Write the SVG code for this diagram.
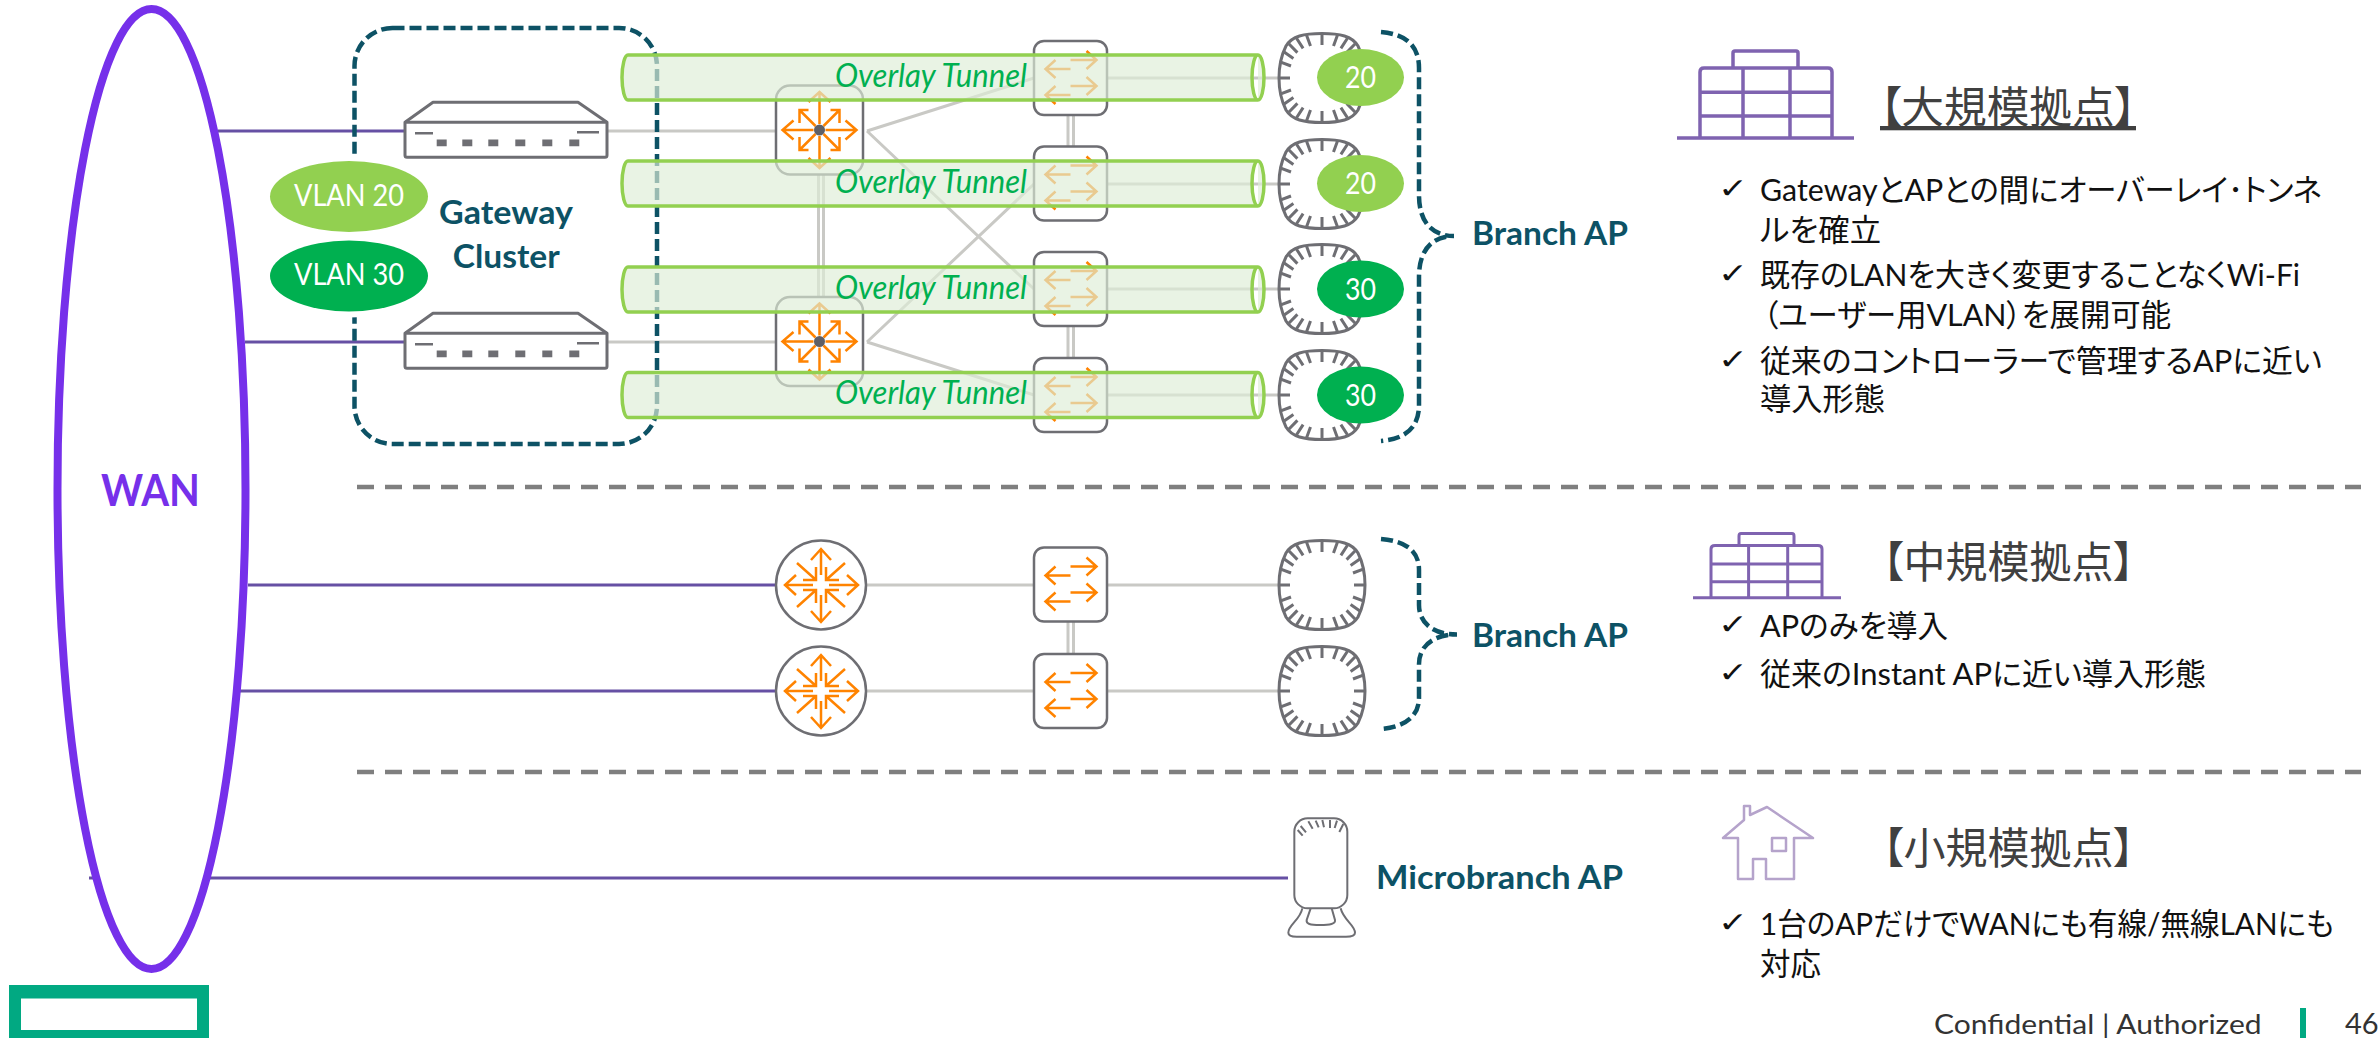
<svg xmlns="http://www.w3.org/2000/svg" width="2379" height="1038" viewBox="0 0 2379 1038">
<style>
text{font-family:"Lato","Noto Sans CJK JP",sans-serif}
.teal{fill:#0d5265;font-weight:700;font-size:33px}
.ov{fill:#00b050;font-style:italic;font-size:33px}
.wh{fill:#fff;font-size:31px}
.jp{fill:#111;font-size:31px;font-feature-settings:"palt"}
.ck{fill:#111;font-size:28px;font-family:"DejaVu Sans",sans-serif}
.ttl{fill:#404040;font-size:43px;font-family:"Noto Sans CJK JP",sans-serif;font-feature-settings:"palt"}
.pl{stroke:#6650a4;stroke-width:3;fill:none}
.gl{stroke:#c9c9c5;stroke-width:3;fill:none}
.box{fill:#fff;stroke:#6e6e73;stroke-width:2.5}
.org{fill:none;stroke:#ff8300;stroke-width:2.5}
.dash{fill:none;stroke:#0d5265;stroke-width:4.5;stroke-dasharray:12 5}
.sep{stroke:#7f7f7f;stroke-width:4.5;stroke-dasharray:17 11}
.tun{fill:#deedd7;fill-opacity:.67;stroke:#92d050;stroke-width:3.5}
.bld{fill:none;stroke:#7f63b0;stroke-linejoin:round}
.lg{fill:#92d050}.dg{fill:#00b050}
.gray{fill:none;stroke:#6e6e73;stroke-width:3;stroke-linejoin:round}
</style>
<defs>
<path id="rA" class="org" d="M-6 0H-37M-26-9.500L-37 0L-26 9.500M6 0H37M26-9.500L37 0L26 9.500M0-6V-38M-11-28L0-38L11-28M0 6V38M-11 28L0 38L11 28M-4-4L-20-20M-11-20H-20V-7M4-4L20-20M11-20H20V-7M-4 4L-20 20M-11 20H-20V7M4 4L20 20M11 20H20V7"/>
<path id="rC" class="org" d="M-8 0H-36M-25-10L-36 0L-25 10M8 0H37M26-10L37 0L26 10M0-10V-36M-10-25L0-36L10-25M0 10V37M-10 26L0 37L10 26M-24-22L-5-5M-5-18V-5H-18M24-22L5-5M5-18V-5H18M-24 22L-5 5M-5 18V5H-18M24 22L5 5M5 18V5H18"/>
<path id="sA" class="org" d="M0-18H26M16-27L26-18L16-9M0-9H-25M-15-18L-25-9L-15 0M0 8H26M16-1L26 8L16 17M0 17H-25M-15 8L-25 17L-15 26"/>
<g id="ap">
<path d="M0-44.500C18-44.500 30-42 36-32C41-22 43-10 43 0C43 10 41 22 36 32C30 42 18 44.500 0 44.500C-18 44.500-30 42-36 32C-41 22-43 10-43 0C-43-10-41-22-36-32C-30-42-18-44.500 0-44.500Z" fill="#fff" stroke="#6e6e73" stroke-width="3"/>
<path fill="none" stroke="#6e6e73" stroke-width="3" d="M43 0H32M41.900 16.200L31 12M38.600 26.500L28.600 19.600M33.200 34.300L24.600 25.400M25.600 40L18.900 29.600M15.600 43.300L11.500 32M0 44.500V33M-15.600 43.300L-11.500 32M-25.600 40L-18.900 29.600M-33.200 34.300L-24.600 25.400M-38.600 26.500L-28.600 19.600M-41.900 16.200L-31 12M-43 0H-32M-41.900-16.200L-31-12M-38.600-26.500L-28.600-19.600M-33.200-34.300L-24.600-25.400M-25.600-40L-18.900-29.600M-15.600-43.300L-11.500-32M0-44.500V-33M15.600-43.300L11.500-32M25.600-40L18.900-29.600M33.200-34.300L24.600-25.400M38.600-26.500L28.600-19.600M41.900-16.200L31-12"/>
</g>
<g id="gw">
<path d="M0 0L28-20H173L202 0V33Q202 35 200 35H2Q0 35 0 33Z" fill="#fff" stroke="#6e6e73" stroke-width="3" stroke-linejoin="round"/>
<path class="gray" d="M0 0H202"/>
<path fill="none" stroke="#6e6e73" stroke-width="2.500" d="M10 11H28M172 10H194"/>
<path fill="#6e6e73" d="M31.700 17.300h10v6.700h-10zM57.300 17.300h10v6.700h-10zM83.300 17.300h10v6.700h-10zM110.300 17.300h10v6.700h-10zM137.300 17.300h10v6.700h-10zM164.300 17.300h10v6.700h-10z"/>
</g>
<g id="rbox"><rect class="box" x="-43.500" y="-44.500" width="87" height="89" rx="14"/><use href="#rA"/><circle r="5.500" fill="#5f5f66"/></g>
<g id="sw"><rect class="box" x="-36.500" y="-37" width="73" height="74" rx="10"/><use href="#sA"/></g>
<g id="rc"><ellipse class="box" rx="45" ry="44.500"/><use href="#rC"/></g>
<path id="tun" class="tun" d="M628 0H1258A6 22.500 0 0 1 1258 45H628A6 22.500 0 0 1 628 0ZM1258 0A6 22.500 0 0 0 1258 45"/>
</defs>

<g id="connectors">
<path class="pl" d="M218 131H405M245 342H405M248 585H776M240 691H776M89 878H1288"/>
<path class="gl" d="M607 131H776M607 342H776M867 131L1034 78M867 131L1034 289M867 342L1034 184M867 342L1034 395"/>
<path class="gl" d="M1107 78H1278M1107 184H1278M1107 289H1278M1107 395H1278M866 585H1034M866 691H1034M1107 585H1279M1107 691H1279"/>
<path class="gl" d="M818.500 175V298M823.500 175V298M1068 115V146M1073.500 115V146M1068 326V358M1073.500 326V358M1068 622V654M1073.500 622V654"/>
<path class="sep" d="M357 487H2361M357 772H2361"/>
</g>

<g id="wan"><ellipse cx="151.500" cy="489" rx="94" ry="480" fill="#fff" stroke="#7630ea" stroke-width="8"/>
<text x="101" y="506" font-size="43" font-weight="700" fill="#7630ea" textLength="99" lengthAdjust="spacingAndGlyphs">WAN</text></g>

<g id="logo"><path fill="#01a982" fill-rule="evenodd" d="M9 985H209V1038H9ZM21 998.600V1030H197V998.600Z"/></g>

<g id="gateway-cluster"><rect class="dash" x="354.500" y="28" width="302.500" height="416" rx="38"/>
<text class="teal" x="439" y="224" textLength="134" lengthAdjust="spacingAndGlyphs">Gateway</text>
<text class="teal" x="452.700" y="268" textLength="107" lengthAdjust="spacingAndGlyphs">Cluster</text></g>

<g id="vlan20"><ellipse class="lg" cx="349" cy="196.500" rx="79" ry="35.500" stroke="#fff" stroke-width="12" paint-order="stroke"/><text class="wh" x="294" y="205.500" textLength="110" lengthAdjust="spacingAndGlyphs">VLAN 20</text></g>
<g id="vlan30"><ellipse class="dg" cx="349" cy="276" rx="79" ry="35.500" stroke="#fff" stroke-width="12" paint-order="stroke"/><text class="wh" x="294" y="285" textLength="110" lengthAdjust="spacingAndGlyphs">VLAN 30</text></g>

<g id="gateway1"><use href="#gw" x="405" y="122.300"/></g>
<g id="gateway2"><use href="#gw" x="405" y="333.300"/></g>
<g id="router1"><use href="#rbox" x="819.500" y="130"/></g>
<g id="router2"><use href="#rbox" x="819.500" y="341.500"/></g>
<g id="switch1"><use href="#sw" x="1070.500" y="78"/></g>
<g id="switch2"><use href="#sw" x="1070.500" y="183.500"/></g>
<g id="switch3"><use href="#sw" x="1070.500" y="289"/></g>
<g id="switch4"><use href="#sw" x="1070.500" y="395"/></g>
<g id="ap1"><use href="#ap" x="1322" y="78"/></g>
<g id="ap2"><use href="#ap" x="1322" y="184"/></g>
<g id="ap3"><use href="#ap" x="1322" y="289"/></g>
<g id="ap4"><use href="#ap" x="1322" y="395"/></g>

<g id="tunnel1"><use href="#tun" y="55"/><text class="ov" x="835" y="87" textLength="192" lengthAdjust="spacingAndGlyphs">Overlay Tunnel</text></g>
<g id="tunnel2"><use href="#tun" y="161"/><text class="ov" x="835" y="193" textLength="192" lengthAdjust="spacingAndGlyphs">Overlay Tunnel</text></g>
<g id="tunnel3"><use href="#tun" y="267"/><text class="ov" x="835" y="299" textLength="192" lengthAdjust="spacingAndGlyphs">Overlay Tunnel</text></g>
<g id="tunnel4"><use href="#tun" y="372.500"/><text class="ov" x="835" y="404" textLength="192" lengthAdjust="spacingAndGlyphs">Overlay Tunnel</text></g>

<g id="tag1"><ellipse class="lg" cx="1360.500" cy="77.500" rx="43.500" ry="28.500"/><text class="wh" x="1345" y="88" textLength="31" lengthAdjust="spacingAndGlyphs">20</text></g>
<g id="tag2"><ellipse class="lg" cx="1360.500" cy="183.500" rx="43.500" ry="28.500"/><text class="wh" x="1345" y="194" textLength="31" lengthAdjust="spacingAndGlyphs">20</text></g>
<g id="tag3"><ellipse class="dg" cx="1360.500" cy="289" rx="43.500" ry="28.500"/><text class="wh" x="1345" y="299.500" textLength="31" lengthAdjust="spacingAndGlyphs">30</text></g>
<g id="tag4"><ellipse class="dg" cx="1360.500" cy="395" rx="43.500" ry="28.500"/><text class="wh" x="1345" y="405.500" textLength="31" lengthAdjust="spacingAndGlyphs">30</text></g>

<g id="brace1"><path class="dash" d="M1381 32C1405 34 1419 45 1419 68V195C1419 222 1432 236 1454 236C1432 236 1419 250 1419 277V405C1419 428 1405 439 1381 441"/>
<text class="teal" x="1472" y="245" textLength="156" lengthAdjust="spacingAndGlyphs">Branch AP</text></g>

<g id="router3"><use href="#rc" x="821" y="585"/></g>
<g id="router4"><use href="#rc" x="821" y="691"/></g>
<g id="switch5"><use href="#sw" x="1070.500" y="584.500"/></g>
<g id="switch6"><use href="#sw" x="1070.500" y="691"/></g>
<g id="ap5"><use href="#ap" x="1322" y="585"/></g>
<g id="ap6"><use href="#ap" x="1322" y="691"/></g>
<g id="brace2"><path class="dash" d="M1381 539C1405 541 1419 550 1419 570V605C1419 622 1432 634.500 1457 634.500C1432 634.500 1419 647 1419 664V698C1419 716 1405 727 1381 729"/>
<text class="teal" x="1472" y="646.500" textLength="156" lengthAdjust="spacingAndGlyphs">Branch AP</text></g>

<g id="microbranch-ap"><g transform="translate(1270 800) scale(.3333)" fill="none" stroke="#6e6e73" stroke-width="6">
<rect x="73" y="55" width="159" height="270" rx="40" fill="#fff"/>
<path d="M83 90L98 107M92 78L108 97M115 64L128 86M137 62L146 82M157 60L162 82M180 60V84M201 62L194 84M220 72L208 96"/>
<path d="M97 325C90 360 55 375 55 398C55 408 65 410 80 410H228C245 410 255 408 255 398C255 375 220 360 212 325"/>
<path d="M122 325L110 360C108 372 120 375 150 375C180 375 197 372 195 360L185 325"/></g>
<text class="teal" x="1376" y="889" textLength="247" lengthAdjust="spacingAndGlyphs">Microbranch AP</text></g>

<g id="large-site">
<path class="bld" stroke-width="3.500" d="M1733 68V53Q1733 51 1735 51H1796Q1798 51 1798 53V68M1700 138V72Q1700 68 1704 68H1828Q1832 68 1832 72V138M1700 92.300H1832M1700 116H1832M1743 68V138M1790 68V138M1677 138H1854"/>
<text class="ttl" x="1880" y="123" textLength="256" lengthAdjust="spacingAndGlyphs" text-decoration="underline">【大規模拠点】</text>
<text class="ck" x="1718" y="198" textLength="30" lengthAdjust="spacingAndGlyphs">✓</text><text class="jp" x="1760" y="201" textLength="562" lengthAdjust="spacingAndGlyphs">GatewayとAPとの間にオーバーレイ･トンネ</text>
<text class="jp" x="1760" y="241" textLength="121" lengthAdjust="spacingAndGlyphs">ルを確立</text>
<text class="ck" x="1718" y="283" textLength="30" lengthAdjust="spacingAndGlyphs">✓</text><text class="jp" x="1760" y="286" textLength="540" lengthAdjust="spacingAndGlyphs">既存のLANを大きく変更することなくWi-Fi</text>
<text class="jp" x="1763" y="326" textLength="408" lengthAdjust="spacingAndGlyphs">（ユーザー用VLAN）を展開可能</text>
<text class="ck" x="1718" y="369" textLength="30" lengthAdjust="spacingAndGlyphs">✓</text><text class="jp" x="1760" y="372" textLength="562" lengthAdjust="spacingAndGlyphs">従来のコントローラーで管理するAPに近い</text>
<text class="jp" x="1760" y="410" textLength="125" lengthAdjust="spacingAndGlyphs">導入形態</text>
</g>

<g id="medium-site">
<path class="bld" stroke-width="3" d="M1739 545.600V536Q1739 533.600 1741 533.600H1792Q1794 533.600 1794 536V545.600M1711 597.800V549Q1711 545.600 1715 545.600H1818Q1822 545.600 1822 549V597.800M1711 564H1822M1711 581.700H1822M1748.600 545.600V597.800M1787.700 545.600V597.800M1693 597.800H1841"/>
<text class="ttl" x="1882.500" y="578" textLength="252" lengthAdjust="spacingAndGlyphs">【中規模拠点】</text>
<text class="ck" x="1718" y="634" textLength="30" lengthAdjust="spacingAndGlyphs">✓</text><text class="jp" x="1760" y="637" textLength="188" lengthAdjust="spacingAndGlyphs">APのみを導入</text>
<text class="ck" x="1718" y="682" textLength="30" lengthAdjust="spacingAndGlyphs">✓</text><text class="jp" x="1760" y="685" textLength="446" lengthAdjust="spacingAndGlyphs">従来のInstant APに近い導入形態</text>
</g>

<g id="small-site">
<path fill="none" stroke="#b5a3cb" stroke-width="2.500" stroke-linejoin="round" d="M1723 838L1744 820V806H1750V815L1767 807L1813 838H1794V879H1766V859H1753V879H1738V838ZM1772 838H1786V851H1772Z"/>
<text class="ttl" x="1882.500" y="864" textLength="252" lengthAdjust="spacingAndGlyphs">【小規模拠点】</text>
<text class="ck" x="1718" y="932" textLength="30" lengthAdjust="spacingAndGlyphs">✓</text><text class="jp" x="1760" y="935" textLength="574" lengthAdjust="spacingAndGlyphs">1台のAPだけでWANにも有線/無線LANにも</text>
<text class="jp" x="1760" y="974.500" textLength="61" lengthAdjust="spacingAndGlyphs">対応</text>
</g>

<g id="footer">
<text x="1934" y="1034" font-size="27" fill="#333" textLength="327.600" lengthAdjust="spacingAndGlyphs">Confidential | Authorized</text>
<rect x="2300" y="1008" width="6" height="30" fill="#01a982"/>
<text x="2345" y="1034" font-size="29" fill="#333">46</text>
</g>
</svg>
